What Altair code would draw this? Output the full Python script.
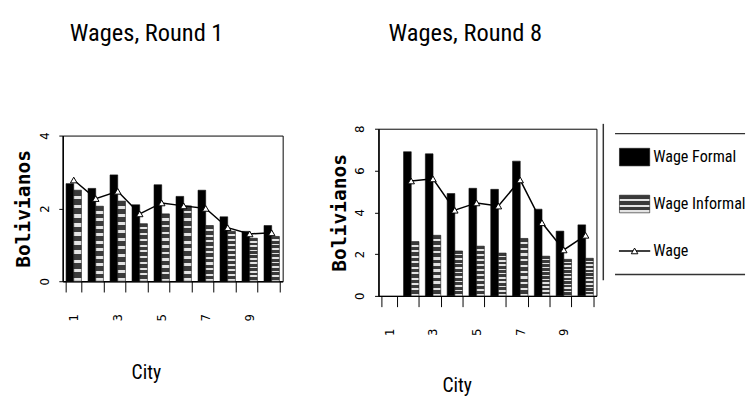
import altair as alt
import pandas as pd

cities = list(range(1, 11))
series = ["Wage Formal", "Wage Informal", "Wage"]

r1_cities = [1, 2, 3, 4, 5, 6, 7, 8, 9, 10]
r1_formal = [2.68, 2.55, 2.92, 2.10, 2.65, 2.33, 2.50, 1.77, 1.37, 1.53]
r1_informal = [2.50, 2.06, 2.20, 1.58, 1.85, 2.07, 1.53, 1.37, 1.18, 1.23]
r1_wage = [2.78, 2.27, 2.47, 1.85, 2.15, 2.07, 2.00, 1.47, 1.30, 1.33]

r8_cities = [2, 3, 4, 5, 6, 7, 8, 9, 10]
r8_formal = [6.90, 6.80, 4.90, 5.15, 5.10, 6.45, 4.15, 3.10, 3.40]
r8_informal = [2.60, 2.90, 2.15, 2.38, 2.05, 2.75, 1.90, 1.75, 1.80]
r8_wage = [5.50, 5.60, 4.10, 4.45, 4.30, 5.55, 3.50, 2.20, 2.90]

NARROW = "Roboto Condensed, DejaVu Sans Condensed, Liberation Sans Narrow, Liberation Sans, sans-serif"

# horizontal stripe fill for the informal bars
stops = []
N = 10
for k in range(N):
    a = k / N
    b = (k + 0.62) / N
    c = (k + 1) / N
    stops += [{"offset": a, "color": "#3a3a3a"}, {"offset": b, "color": "#3a3a3a"},
              {"offset": b, "color": "#e4e4e4"}, {"offset": c, "color": "#e4e4e4"}]
stripe = {"gradient": "linear", "x1": 0, "y1": 0, "x2": 0, "y2": 1, "stops": stops}
stripe_leg = {"gradient": "linear", "x1": 0, "y1": 0, "x2": 0, "y2": 1,
              "stops": [s for k in range(3) for s in [
                  {"offset": k / 3, "color": "#3a3a3a"}, {"offset": (k + 0.6) / 3, "color": "#3a3a3a"},
                  {"offset": (k + 0.6) / 3, "color": "#e4e4e4"}, {"offset": (k + 1) / 3, "color": "#e4e4e4"}]]}

fill_cond = alt.condition(alt.datum.Series == "Wage Informal", alt.value(stripe), alt.value("black"))
NOSTROKE = alt.ViewBackground(stroke="transparent")


def panel(cs, f, i, w, ymax, width, height, city_x, city_y):
    bars = pd.DataFrame({"City": cs * 2,
                         "Series": [series[0]] * len(cs) + [series[1]] * len(cs),
                         "Value": f + i})
    line = pd.DataFrame({"City": cs, "Value": w})
    xscale = alt.Scale(domain=cities, paddingInner=0.3, paddingOuter=0.15)
    xaxis = alt.Axis(title="City", labelExpr="datum.value % 2 == 1 ? datum.label : ''",
                     labelAngle=270, labelFontSize=12, labelPadding=22, labelColor="black",
                     labelFont="DejaVu Sans",
                     tickSize=11, tickBand="extent", tickColor="black", domainColor="black",
                     domainWidth=1.5, titleFont=NARROW, titleFontSize=20, titleFontWeight="normal",
                     titleColor="black", titleX=city_x, titleY=city_y, titleBaseline="middle",
                     titleAlign="center")
    yaxis = alt.Axis(title="Bolivianos", values=list(range(0, ymax + 1, 2)), grid=False,
                     labelAngle=270, labelFontSize=12, labelPadding=8, labelColor="black",
                     labelFont="DejaVu Sans",
                     tickSize=4, tickColor="black", domainColor="black", domainWidth=1.5,
                     titleFont="DejaVu Sans Mono", titleFontWeight="bold", titleFontSize=20,
                     titlePadding=5, titleColor="black")
    ys = alt.Scale(domain=[0, ymax], nice=False)
    bar = alt.Chart(bars).mark_bar(stroke="#111", strokeWidth=0.6).encode(
        x=alt.X("City:O", scale=xscale, axis=xaxis),
        xOffset=alt.XOffset("Series:N", sort=series[:2]),
        y=alt.Y("Value:Q", scale=ys, axis=yaxis),
        fill=fill_cond,
    )
    ln = alt.Chart(line).mark_line(color="black", strokeWidth=1.5).encode(
        x=alt.X("City:O", scale=xscale), y=alt.Y("Value:Q", scale=ys))
    pt = alt.Chart(line).mark_point(shape="triangle-up", filled=True, fill="white", stroke="black",
                                    strokeWidth=1, size=45, opacity=1).encode(
        x=alt.X("City:O", scale=xscale), y=alt.Y("Value:Q", scale=ys))
    return alt.layer(bar, ln, pt).properties(width=width, height=height)


def spacer(width, height, title=None, dx=0, offset=0):
    ch = alt.Chart(pd.DataFrame({"a": [0]})).mark_point(opacity=0).encode(
        x=alt.value(0), y=alt.value(0))
    if title:
        return ch.properties(width=width, height=height, view=NOSTROKE,
                             title=alt.TitleParams(title, anchor="start", dx=dx, offset=offset,
                                                   font=NARROW, fontSize=25, fontWeight="normal",
                                                   color="black", baseline="alphabetic"))
    return ch.properties(width=width, height=height, view=NOSTROKE)


left = panel(r1_cities, r1_formal, r1_informal, r1_wage, 4, 225, 149, 85, 94)
right = panel(r8_cities, r8_formal, r8_informal, r8_wage, 8, 223, 171, 80, 92)

# legend panel, drawn from the series names
leg = pd.DataFrame({"Series": series})
ly = alt.Y("Series:N", scale=alt.Scale(domain=series, type="point", padding=0.5), axis=None)
rect_path = "M-1.72,-1L1.72,-1L1.72,1L-1.72,1Z"
sym = alt.Chart(leg).transform_filter(alt.datum.Series != "Wage").mark_point(
    shape=rect_path, size=324, filled=True, opacity=1, stroke="#111", strokeWidth=0.6).encode(
    y=ly, x=alt.value(32), fill=alt.condition(alt.datum.Series == "Wage Informal",
                                              alt.value(stripe_leg), alt.value("black")))
rule = alt.Chart(leg).transform_filter(alt.datum.Series == "Wage").mark_rule(
    color="black", strokeWidth=1.5).encode(y=ly, x=alt.value(16), x2=alt.value(48))
tri = alt.Chart(leg).transform_filter(alt.datum.Series == "Wage").mark_point(
    shape="triangle-up", filled=True, fill="white", stroke="black", strokeWidth=1, size=45,
    opacity=1).encode(y=ly, x=alt.value(32))
txt = alt.Chart(leg).mark_text(align="left", baseline="middle", font=NARROW, fontSize=16.5,
                               color="black").encode(
    y=ly, x=alt.value(51), text="Series:N")
frame_src = pd.DataFrame({"a": [0]})
box_left = alt.Chart(frame_src).mark_rule(color="#333", strokeWidth=1.5).encode(
    x=alt.value(0), y=alt.value(-10), y2=alt.value(150))
box_top = alt.Chart(frame_src).mark_rule(color="#333", strokeWidth=1.5).encode(
    x=alt.value(12), x2=alt.value(145), y=alt.value(0))
box_bot = alt.Chart(frame_src).mark_rule(color="#333", strokeWidth=1.5).encode(
    x=alt.value(12), x2=alt.value(145), y=alt.value(144))
legend = alt.layer(box_left, box_top, box_bot, sym, rule, tri, txt).properties(
    width=145, height=144, view=NOSTROKE)

left_col = alt.vconcat(spacer(225, 67, "Wages, Round 1", 10, 2), left, spacing=0, bounds="flush")
right_col = alt.vconcat(spacer(223, 60, "Wages, Round 8", 13, 2), right, spacing=0, bounds="flush")
leg_col = alt.vconcat(spacer(145, 65), legend, spacing=0, bounds="flush")

charts = alt.hconcat(alt.hconcat(left_col, right_col, spacing=46), leg_col, spacing=2).properties(
    padding={"left": 5, "top": 8, "right": 0, "bottom": 0}
).configure_view(stroke="black", strokeWidth=1)

charts.save("out.html", embed_options={"renderer": "svg", "actions": False})
